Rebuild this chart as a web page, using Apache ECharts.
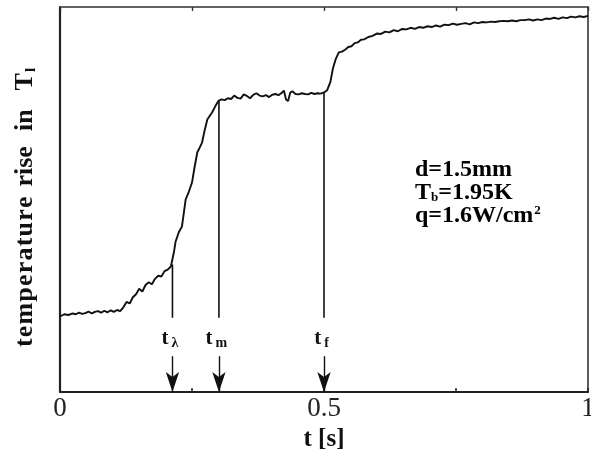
<!DOCTYPE html>
<html>
<head>
<meta charset="utf-8">
<script src="https://cdn.jsdelivr.net/npm/echarts@6/dist/echarts.min.js"></script>
<style>
  html, body { margin: 0; padding: 0; background: #fff; }
  #chart { width: 591px; height: 455px; }
</style>
</head>
<body>
<div id="chart"></div>
<script>
// Time samples [s] of the recorded trace
const timeS = [
  0.000, 0.008, 0.016, 0.024, 0.030, 0.036, 0.042, 0.048, 0.054, 0.060,
  0.066, 0.072, 0.078, 0.084, 0.090, 0.096, 0.102, 0.108, 0.114, 0.120,
  0.126, 0.132, 0.138, 0.144, 0.150, 0.156, 0.162, 0.168, 0.174, 0.180,
  0.186, 0.192, 0.198, 0.204, 0.210, 0.213, 0.216, 0.219, 0.225, 0.231,
  0.238, 0.244, 0.250, 0.255, 0.260, 0.265, 0.269, 0.274, 0.279, 0.284,
  0.288, 0.294, 0.300, 0.306, 0.312, 0.318, 0.324, 0.330, 0.336, 0.342,
  0.348, 0.354, 0.360, 0.366, 0.372, 0.378, 0.384, 0.390, 0.396, 0.402,
  0.408, 0.414, 0.420, 0.424, 0.428, 0.432, 0.436, 0.440, 0.446, 0.452,
  0.458, 0.464, 0.470, 0.476, 0.482, 0.488, 0.494, 0.500, 0.506, 0.512,
  0.517, 0.522, 0.528, 0.534, 0.540, 0.546, 0.552, 0.558, 0.564, 0.570,
  0.576, 0.584, 0.592, 0.600, 0.608, 0.616, 0.624, 0.632, 0.640, 0.648,
  0.656, 0.664, 0.672, 0.680, 0.688, 0.696, 0.704, 0.712, 0.720, 0.728,
  0.736, 0.744, 0.752, 0.760, 0.768, 0.776, 0.784, 0.792, 0.800, 0.808,
  0.816, 0.824, 0.832, 0.840, 0.848, 0.856, 0.864, 0.872, 0.880, 0.888,
  0.896, 0.904, 0.912, 0.920, 0.928, 0.936, 0.944, 0.952, 0.960, 0.968,
  0.976, 0.984, 0.992, 1.000
];

// Temperature rise (arbitrary units, 0..100 spans the frame)
const tempRise = [
  19.6, 20.2, 20.0, 20.4, 20.2, 20.6, 20.3, 20.5, 20.9, 20.4,
  20.8, 21.0, 20.6, 21.1, 20.7, 21.2, 20.8, 21.3, 21.0, 22.0,
  23.4, 23.0, 24.6, 25.4, 26.8, 26.1, 27.8, 28.5, 28.0, 29.4,
  30.2, 30.0, 31.4, 31.8, 32.6, 33.1, 36.5, 39.1, 41.5, 43.0,
  50.0, 52.0, 54.4, 58.5, 62.2, 63.6, 64.8, 68.0, 70.8, 71.8,
  72.6, 74.2, 75.6, 76.0, 75.8, 76.3, 76.1, 77.0, 76.4, 76.2,
  77.3, 76.9, 76.3, 77.2, 77.6, 77.0, 76.8, 77.1, 76.6, 77.2,
  77.4, 77.1, 77.7, 78.3, 76.0, 75.6, 77.7, 78.1, 77.4, 77.3,
  77.6, 77.4, 77.3, 77.7, 77.4, 77.6, 77.5, 77.8, 78.4, 80.5,
  84.1, 86.4, 88.2, 88.4, 88.9, 89.6, 89.8, 90.6, 90.8, 91.5,
  91.6, 92.2, 92.5, 93.1, 93.0, 93.6, 93.4, 94.0, 93.7, 94.3,
  94.2, 94.6, 94.3, 94.8, 94.6, 95.0, 94.8, 95.2, 94.9, 95.4,
  95.3, 95.7, 95.4, 95.6, 95.8, 95.5, 96.0, 95.8, 96.1, 96.0,
  96.2, 96.1, 96.3, 96.4, 96.3, 96.5, 96.3, 96.6, 96.6, 96.8,
  96.5, 96.8, 96.6, 97.0, 96.9, 97.2, 96.9, 97.3, 97.1, 97.5,
  97.3, 97.6, 97.4, 97.7
];

// Characteristic times and their labels
const markerTimes = [0.213, 0.301, 0.500];
const markerSubs = ['\u03bb', 'm', 'f'];
const markerTops = [33.1, 75.7, 77.8];   // where the drop line meets the trace
const dropBottom = 19.3;                  // lower end of the drop lines
const labelLevel = 13.8;                  // height of the t-labels
const arrowTop = 9.3;                     // arrow tail height
const arrowTip = 0;                       // arrow points at the axis

// x-axis tick labels
const xTickLabels = { 0: '0', 0.5: '0.5', 1: '1' };

const serif = '"Liberation Serif", "DejaVu Serif", serif';
const ink = '#111';

const trace = timeS.map((t, i) => [t, tempRise[i]]);

const dropSeries = markerTimes.map((t, i) => ({
  type: 'line',
  data: [[t, markerTops[i]], [t, dropBottom]],
  showSymbol: false,
  silent: true,
  lineStyle: { color: ink, width: 1.6 },
  z: 3
}));

// y-axis title: the first word is typeset with a little extra tracking
const spacedWord = 'temperature'.split('').map((c, i, a) =>
  '{' + (i < a.length - 1 ? 'l' : 'e') + '|' + c + '}').join('');
const yTitle = spacedWord + '{r|rise}{i|in}{T|T}{s|l}';

const boldTitle = { fontFamily: serif, fontWeight: 'bold', fontSize: 26, color: ink };

const chart = echarts.init(document.getElementById('chart'), null, { renderer: 'canvas' });

chart.setOption({
  animation: false,
  backgroundColor: '#fff',
  grid: { left: 60, right: 3, top: 7, bottom: 63, outerBoundsMode: 'none', containLabel: false },
  xAxis: [
    {
      type: 'value', min: 0, max: 1, interval: 0.25,
      position: 'bottom',
      name: 't [s]', nameLocation: 'middle', nameGap: 33,
      nameTextStyle: { fontFamily: serif, fontWeight: 'bold', fontSize: 25, color: ink },
      axisLine: { onZero: false, lineStyle: { color: '#222', width: 2.2 } },
      axisTick: { show: true, inside: true, length: 4, lineStyle: { color: '#222', width: 1.5 } },
      axisLabel: {
        fontFamily: serif, fontSize: 27, color: '#222', margin: 3,
        formatter: v => (xTickLabels[v] !== undefined ? xTickLabels[v] : '')
      },
      splitLine: { show: false }
    },
    {
      type: 'value', min: 0, max: 1, interval: 0.25,
      position: 'top',
      axisLine: { show: true, onZero: false, lineStyle: { color: '#333', width: 1.6 } },
      axisTick: { show: true, inside: true, length: 4, lineStyle: { color: '#333', width: 1.4 } },
      axisLabel: { show: false },
      splitLine: { show: false }
    }
  ],
  yAxis: [
    {
      type: 'value', min: 0, max: 100,
      position: 'left',
      name: yTitle,
      nameLocation: 'middle', nameRotate: 90, nameGap: 21,
      nameTextStyle: {
        color: ink,
        rich: {
          l: Object.assign({}, boldTitle, { padding: [0, 1.2, 0, 0] }),
          e: boldTitle,
          r: Object.assign({}, boldTitle, { padding: [0, 0, 0, 10] }),
          i: Object.assign({}, boldTitle, { padding: [0, 0, 0, 15] }),
          T: Object.assign({}, boldTitle, { padding: [0, 0, 0, 19] }),
          s: { fontFamily: serif, fontWeight: 'bold', fontSize: 15, color: ink, padding: [13, 16, 0, 1] }
        }
      },
      axisLine: { show: true, onZero: false, lineStyle: { color: '#222', width: 2.2 } },
      axisTick: { show: false },
      axisLabel: { show: false },
      splitLine: { show: false }
    },
    {
      type: 'value', min: 0, max: 100,
      position: 'right',
      axisLine: { show: true, onZero: false, lineStyle: { color: '#333', width: 1.6 } },
      axisTick: { show: false },
      axisLabel: { show: false },
      splitLine: { show: false }
    }
  ],
  series: [
    {
      type: 'line',
      data: trace,
      showSymbol: false,
      silent: true,
      lineStyle: { color: ink, width: 1.9 },
      z: 4,
      markLine: {
        silent: true,
        symbol: ['none', 'arrow'],
        symbolSize: [10, 20],
        label: { show: false },
        lineStyle: { color: ink, width: 1.4, type: 'solid' },
        data: markerTimes.map(t => [{ coord: [t, arrowTop] }, { coord: [t, arrowTip] }])
      }
    },
    ...dropSeries,
    {
      type: 'scatter',
      symbol: 'circle',
      symbolSize: 1,
      itemStyle: { color: 'rgba(0,0,0,0)', opacity: 1 },
      silent: true,
      data: markerTimes.map((t, i) => ({
        value: [t, labelLevel],
        label: { formatter: '{t|t}{s|' + markerSubs[i] + '}' }
      })),
      label: {
        show: true,
        position: 'inside',
        offset: [-2.5, 0],
        opacity: 1,
        rich: {
          t: { fontFamily: serif, fontWeight: 'bold', fontSize: 21, color: ink },
          s: { fontFamily: serif, fontWeight: 'bold', fontSize: 14, color: ink, padding: [10, 0, 0, 3] }
        }
      },
      z: 5
    }
  ],
  graphic: [
    {
      type: 'text',
      left: 415,
      top: 158,
      style: {
        text: '{a|d=1.5mm}\n{a|T}{b|b}{a|=1.95K}\n{a|q=1.6W/cm}{p|2}',
        rich: {
          a: { fontFamily: serif, fontWeight: 'bold', fontSize: 24, color: ink, lineHeight: 23 },
          b: { fontFamily: serif, fontWeight: 'bold', fontSize: 13, color: ink, lineHeight: 23, padding: [9, 0, 0, 0] },
          p: { fontFamily: serif, fontWeight: 'bold', fontSize: 13, color: ink, lineHeight: 23, padding: [0, 0, 10, 1] }
        }
      }
    }
  ]
});
</script>
</body>
</html>
